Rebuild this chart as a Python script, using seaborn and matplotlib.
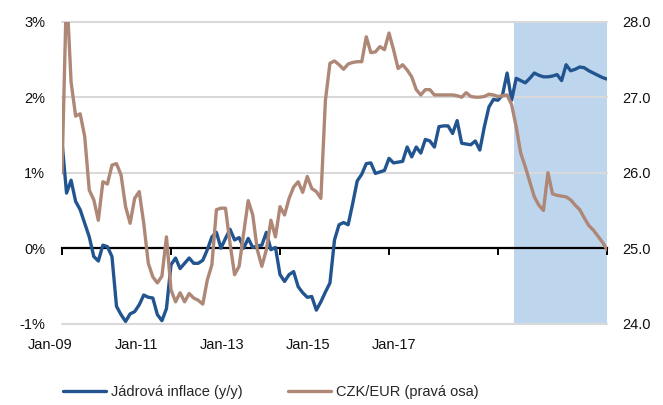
import numpy as np
import pandas as pd
import matplotlib
matplotlib.use("Agg")
import matplotlib.pyplot as plt
import matplotlib.transforms as mtransforms
import seaborn as sns

# Monthly series, Jan 2009 - Jan 2019
core_inflation = [
    1.41, 0.73, 0.90, 0.62, 0.51, 0.33, 0.15, -0.11, -0.17, 0.04, 0.02, -0.11,
    -0.77, -0.88, -0.97, -0.87, -0.84, -0.75, -0.62, -0.65, -0.66, -0.88, -0.96, -0.80,
    -0.22, -0.13, -0.27, -0.20, -0.13, -0.20, -0.20, -0.16, -0.02, 0.15, 0.21, 0.00,
    0.13, 0.25, 0.11, 0.14, 0.00, 0.13, 0.01, 0.03, 0.04, 0.21, -0.02, 0.01,
    -0.35, -0.44, -0.35, -0.31, -0.51, -0.59, -0.65, -0.64, -0.82, -0.71, -0.58, -0.46,
    0.11, 0.31, 0.34, 0.31, 0.59, 0.89, 0.98, 1.12, 1.13, 0.99, 1.01, 1.03,
    1.19, 1.13, 1.14, 1.15, 1.34, 1.21, 1.34, 1.26, 1.44, 1.42, 1.34, 1.61,
    1.62, 1.62, 1.52, 1.69, 1.39, 1.38, 1.37, 1.42, 1.30, 1.61, 1.87, 1.97,
    1.96, 2.03, 2.32, 1.96, 2.25, 2.22, 2.19, 2.25, 2.32, 2.29, 2.27, 2.27,
    2.28, 2.30, 2.22, 2.43, 2.35, 2.37, 2.40, 2.39, 2.35, 2.32, 2.29, 2.26,
    2.24,
]
czk_eur = [
    26.00, 28.45, 27.20, 26.75, 26.78, 26.48, 25.77, 25.64, 25.37, 25.88, 25.85, 26.10,
    26.12, 25.97, 25.55, 25.33, 25.66, 25.75, 25.33, 24.80, 24.62, 24.54, 24.63, 25.15,
    24.45, 24.29, 24.41, 24.29, 24.40, 24.34, 24.31, 24.26, 24.58, 24.78, 25.51, 25.53,
    25.53, 25.06, 24.65, 24.76, 25.20, 25.63, 25.44, 24.98, 24.76, 24.98, 25.37, 25.15,
    25.55, 25.44, 25.66, 25.81, 25.88, 25.74, 25.95, 25.79, 25.75, 25.66, 26.96, 27.45,
    27.48, 27.43, 27.37, 27.44, 27.46, 27.47, 27.47, 27.80, 27.59, 27.60, 27.67, 27.63,
    27.85, 27.63, 27.38, 27.43, 27.36, 27.27, 27.10, 27.03, 27.10, 27.10, 27.03, 27.03,
    27.03, 27.03, 27.03, 27.02, 27.00, 27.06, 27.01, 27.00, 27.00, 27.01, 27.04, 27.03,
    27.01, 27.02, 27.03, 26.90, 26.61, 26.26, 26.08, 25.88, 25.68, 25.57, 25.50, 26.00,
    25.72, 25.70, 25.69, 25.68, 25.64, 25.57, 25.51, 25.40, 25.30, 25.24, 25.16, 25.08,
    24.98,
]
x_labels = ["Jan-09", "Jan-11", "Jan-13", "Jan-15", "Jan-17"]
left_ticks = [-1, 0, 1, 2, 3]
right_ticks = [24.0, 25.0, 26.0, 27.0, 28.0]
shade_from_month = 100  # first month of the highlighted period (May 2017)

series_names = ["Jádrová inflace (y/y)", "CZK/EUR (pravá osa)"]

months = np.arange(len(core_inflation))
df = pd.DataFrame({"month": months, "core": core_inflation, "czk": czk_eur})

sns.set_theme(style="white")
plt.rcParams["font.family"] = ["Liberation Sans", "DejaVu Sans"]

BLUE = "#22558F"
BROWN = "#AE8777"
GRID = "#D9D9D9"
SHADE = "#BDD6EE"

fig = plt.figure(figsize=(6.63, 4.05), dpi=100)
W, H = 663, 405
left, right, top, bottom = 62, 607, 21.7, 323.7
ax = fig.add_axes([left / W, 1 - bottom / H, (right - left) / W, (bottom - top) / H])
ax2 = ax.twinx()

# highlighted period
ax.axvspan(shade_from_month - 0.5, months[-1], color=SHADE, lw=0, zorder=0)

sns.lineplot(data=df, x="month", y="core", ax=ax, color=BLUE, lw=2.4,
             label=series_names[0], legend=False, zorder=3)
sns.lineplot(data=df, x="month", y="czk", ax=ax2, color=BROWN, lw=2.4,
             label=series_names[1], legend=False, zorder=3)

ax.set_xlim(months[0], months[-1])
ax.set_ylim(left_ticks[0], left_ticks[-1])
ax2.set_ylim(right_ticks[0], right_ticks[-1])

# gridlines except at zero, where the axis line sits
for v in left_ticks:
    if v != 0:
        ax.axhline(v, color=GRID, lw=1.5, zorder=1, clip_on=False)

for a in (ax, ax2):
    for s in a.spines.values():
        s.set_visible(False)
    a.set_xlabel("")
    a.set_ylabel("")
    a.grid(False)

ax.spines["bottom"].set_visible(True)
ax.spines["bottom"].set_position(("data", 0))
ax.spines["bottom"].set_color("black")
ax.spines["bottom"].set_linewidth(1.6)
ax.spines["bottom"].set_zorder(2)
ax.set_xticks(np.arange(0, len(months), 24))
ax.tick_params(axis="x", direction="out", length=5, width=1.4, color="black",
               labelbottom=False, bottom=True)

ax.set_yticks(left_ticks)
ax.set_yticklabels([f"{v}%" for v in left_ticks])
ax.tick_params(axis="y", length=0, pad=12, labelsize=10.5, labelcolor="#111111")
ax2.set_yticks(right_ticks)
ax2.set_yticklabels([f"{v:.1f}" for v in right_ticks])
ax2.tick_params(axis="y", length=0, pad=11, labelsize=10.5, labelcolor="#111111")

# category labels along the bottom edge
label_months = [-2.6, 16.5, 35.2, 54.2, 73.1]
trans = mtransforms.blended_transform_factory(ax.transData, ax.transAxes)
for m, lab in zip(label_months, x_labels):
    ax.text(m, -0.071, lab, transform=trans, ha="center", va="center",
            fontsize=10.5, color="#111111", clip_on=False)

h1, l1 = ax.get_legend_handles_labels()
h2, l2 = ax2.get_legend_handles_labels()
fig.legend(h1 + h2, l1 + l2, loc="center", bbox_to_anchor=(0.408, 1 - 392 / H),
           ncol=2, frameon=False, fontsize=10.5, handlelength=3.0,
           handletextpad=0.3, columnspacing=3.1)

fig.savefig("out.png", dpi=100)
